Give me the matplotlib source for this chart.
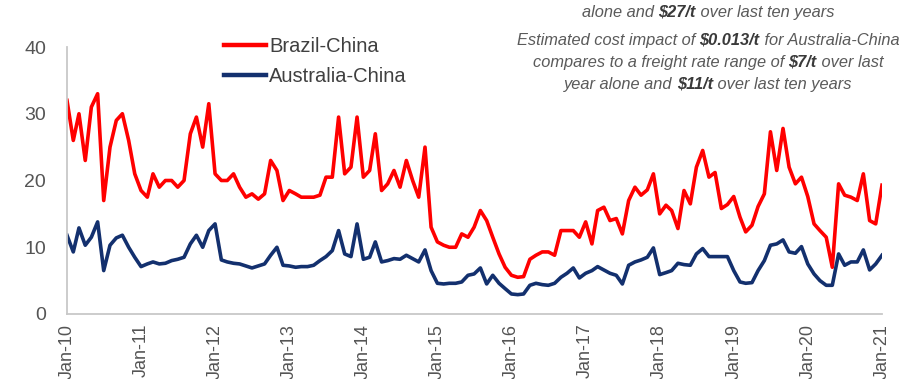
import matplotlib
matplotlib.use("Agg")
import matplotlib.pyplot as plt
import matplotlib.dates as mdates
import pandas as pd

# ---------------- data ----------------
dates = pd.date_range("2010-01-01", "2021-01-01", freq="MS")

brazil_china = [
    32, 26, 30, 23, 31, 33, 17, 25, 29, 30, 26, 21,            # 2010
    18.5, 17.5, 21, 19, 20, 20, 19, 20, 27, 29.5, 25, 31.5,    # 2011
    21, 20, 20, 21, 19, 17.5, 18, 17.2, 18, 23, 21.5, 17,      # 2012
    18.5, 18, 17.5, 17.5, 17.5, 17.8, 20.5, 20.5, 29.5, 21, 22, 29.5,  # 2013
    20.5, 21.5, 27, 18.5, 19.5, 21.5, 19, 23, 20, 17.5, 25, 13,       # 2014
    10.8, 10.3, 10, 10, 12, 11.5, 13, 15.5, 14, 11.5, 9, 7,            # 2015
    5.8, 5.5, 5.6, 8.2, 8.8, 9.3, 9.3, 8.8, 12.5, 12.5, 12.5, 11.5,    # 2016
    13.8, 10.5, 15.5, 16, 14, 14.3, 12, 17, 19, 17.8, 18.6, 21,        # 2017
    15, 16.3, 15.5, 12.8, 18.5, 16.5, 22, 24.5, 20.5, 21.2, 15.8, 16.4,  # 2018
    17.6, 14.5, 12.3, 13.3, 16.1, 18, 27.3, 21.5, 27.8, 22, 19.5, 20.5,  # 2019
    17.6, 13.5, 12.5, 11.5, 7.0, 19.5, 17.8, 17.5, 17, 21, 14, 13.5,     # 2020
    19.3,                                                                 # Jan-21
]

australia_china = [
    11.8, 9.3, 12.9, 10.3, 11.5, 13.8, 6.5, 10.3, 11.4, 11.8, 10, 8.5,   # 2010
    7.1, 7.5, 7.8, 7.5, 7.6, 8, 8.2, 8.5, 10.5, 11.8, 10, 12.5,          # 2011
    13.5, 8.1, 7.8, 7.6, 7.5, 7.2, 6.9, 7.2, 7.5, 8.8, 10, 7.3,          # 2012
    7.2, 7.0, 7.1, 7.1, 7.3, 8, 8.6, 9.5, 12.5, 9, 8.6, 13.5,            # 2013
    8.2, 8.5, 10.8, 7.8, 8, 8.3, 8.2, 8.8, 8.3, 7.8, 9.6, 6.5,           # 2014
    4.6, 4.5, 4.6, 4.6, 4.8, 5.8, 6, 6.9, 4.5, 5.8, 4.6, 3.8,            # 2015
    3.0, 2.9, 3.0, 4.3, 4.6, 4.4, 4.3, 4.6, 5.5, 6.1, 6.9, 5.4,          # 2016
    6.1, 6.5, 7.1, 6.6, 6.1, 5.8, 4.5, 7.3, 7.8, 8.1, 8.5, 9.9,          # 2017
    5.9, 6.2, 6.5, 7.6, 7.4, 7.3, 9, 9.8, 8.6, 8.6, 8.6, 8.6,            # 2018
    6.5, 4.8, 4.6, 4.7, 6.5, 8, 10.3, 10.5, 11.1, 9.3, 9.1, 10.1,        # 2019
    7.5, 6, 5, 4.3, 4.3, 9, 7.3, 7.8, 7.8, 9.6, 6.6, 7.5,                # 2020
    8.8,                                                                  # Jan-21
]

series_labels = ["Brazil-China", "Australia-China"]
y_ticks = [0, 10, 20, 30, 40]

note_lines = [
    [("alone and ", False), ("$27/t", True), (" over last ten years", False)],
    [("Estimated cost impact of ", False), ("$0.013/t", True), (" for Australia-China", False)],
    [("compares to a freight rate range of ", False), ("$7/t", True), (" over last", False)],
    [("year alone and ", False), ("$11/t", True), (" over last ten years", False)],
]

# ---------------- figure ----------------
plt.rcParams["font.family"] = ["Liberation Sans", "DejaVu Sans"]
W, H = 904, 379
fig = plt.figure(figsize=(W / 100, H / 100), dpi=100)
ax = fig.add_axes([67 / W, 1 - 314 / H, (882 - 67) / W, (314 - 47) / H])

red = "#FF0000"
navy = "#13306E"
ax.plot(dates, brazil_china, color=red, lw=2.6, label=series_labels[0], solid_joinstyle="round")
ax.plot(dates, australia_china, color=navy, lw=2.6, label=series_labels[1], solid_joinstyle="round")

ax.set_ylim(0, 40)
ax.set_yticks(y_ticks)
ax.set_xlim(dates[0], dates[-1])
ax.xaxis.set_major_locator(mdates.YearLocator())
ax.xaxis.set_major_formatter(mdates.DateFormatter("%b-%y"))

for s in ["top", "right"]:
    ax.spines[s].set_visible(False)
for s in ["left", "bottom"]:
    ax.spines[s].set_color("#C8C8C8")
    ax.spines[s].set_linewidth(1.3)

ax.tick_params(axis="y", length=0, pad=15, labelsize=14, labelcolor="#555555")
ax.tick_params(axis="x", length=0, pad=7, labelsize=13, labelcolor="#555555", labelrotation=90)

leg = ax.legend(loc="upper left", bbox_to_anchor=(224 / W, 1 - 37 / H),
                bbox_transform=fig.transFigure, frameon=False, fontsize=14.5,
                handlelength=2.1, handletextpad=0.15, labelspacing=0.55,
                borderpad=0, borderaxespad=0)
for t in leg.get_texts():
    t.set_color("#404040")
for l in leg.get_lines():
    l.set_linewidth(3.2)

# ---------------- note text (mixed bold / italic) ----------------
renderer = fig.canvas.get_renderer()
line_y = [17, 45, 67, 89]
cx = 708
for segs, yp in zip(note_lines, line_y):
    texts = []
    for s, b in segs:
        t = fig.text(0, 1 - yp / H, s, fontsize=11.8, style="italic",
                     fontweight="bold" if b else "normal",
                     color="#3a3a3a" if b else "#5a5a5a", va="baseline", ha="left")
        texts.append(t)
    widths = [t.get_window_extent(renderer).width for t in texts]
    x = cx - sum(widths) / 2
    for t, w in zip(texts, widths):
        t.set_x(x / W)
        x += w

fig.savefig("out.png", dpi=100)
